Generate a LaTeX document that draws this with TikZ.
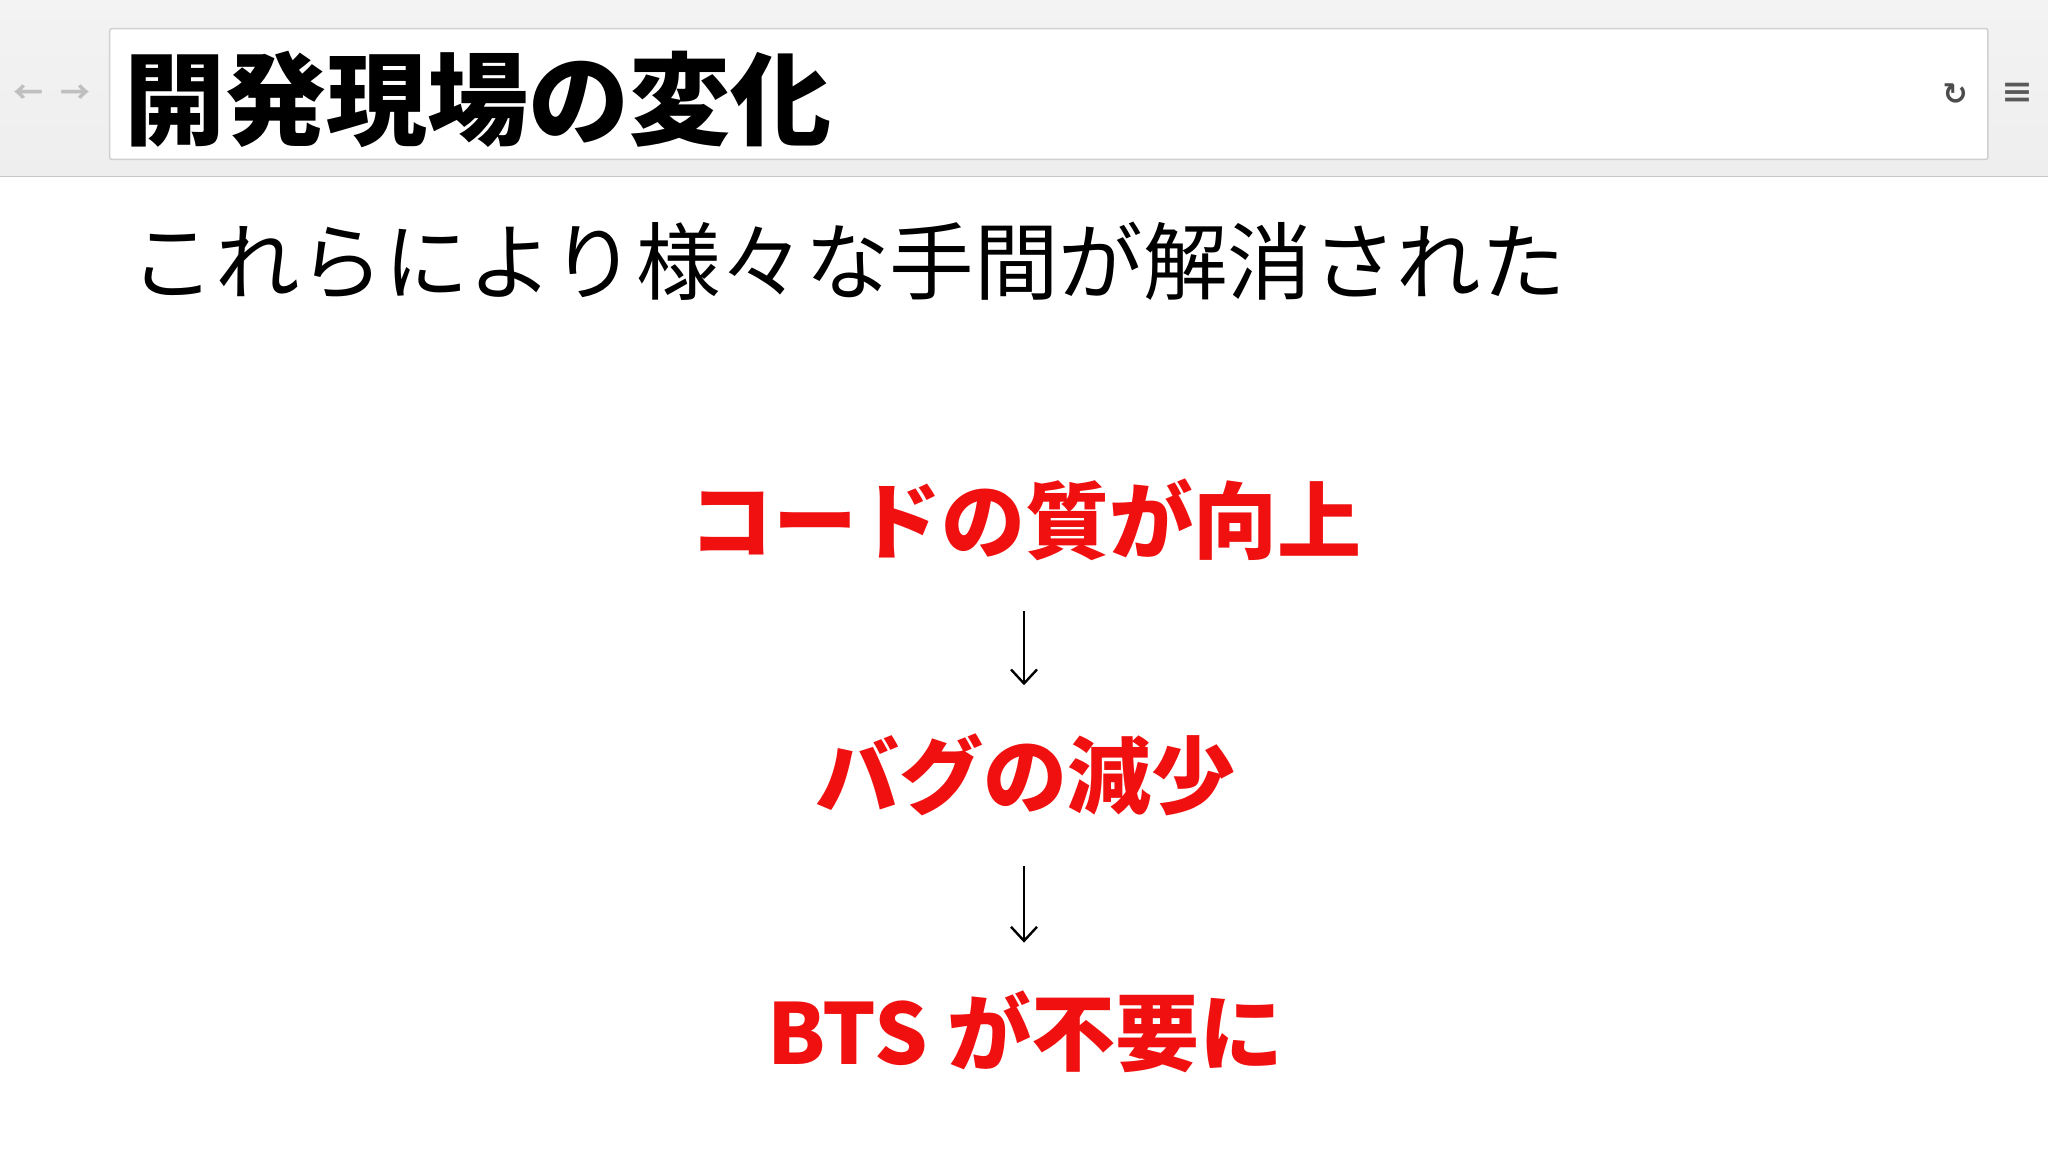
\documentclass[tikz,border=0pt]{standalone}
\usepackage{fontspec}
\setmainfont{Noto Sans CJK JP}
\newfontfamily\jp{Noto Sans CJK JP}
\newfontfamily\dejavu{DejaVu Sans}
\usetikzlibrary{arrows.meta}
\definecolor{barbg}{HTML}{EEEEEE}
\definecolor{redtxt}{HTML}{F01010}
\begin{document}
\begin{tikzpicture}[x=1.306pt,y=-1.306pt,
  redline/.style={text=redtxt,font=\jp\fontsize{84}{84}\selectfont\bfseries,inner sep=0pt},
  flow/.style={draw=black,line width=2.4pt,-{Straight Barb[length=14pt,width=26pt,line width=2.4pt]}},
  icon/.style={text=black!25,font=\jp\fontsize{30}{30}\selectfont\bfseries,inner sep=0pt}]
\useasboundingbox (0,0) rectangle (1568,882);
\fill[white] (0,0) rectangle (1568,882);
\shade[top color=barbg!70!white,bottom color=barbg] (0,0) rectangle (1568,135);
\draw[black!22,line width=1.5pt] (0,135) -- (1568,135);
\draw[black!18,fill=white,line width=1.5pt,rounded corners=2pt] (84,22) rectangle (1522,122);
\node[icon,anchor=center] (back) at (22,72) {←};
\node[icon,anchor=center] (fwd) at (58,72) {→};
\node[text=black!70,font=\dejavu\fontsize{30}{30}\selectfont\bfseries,inner sep=0pt] (reload) at (1497,72) {↻};
\node[text=black!65,font=\jp\fontsize{34}{34}\selectfont\bfseries,inner sep=0pt] (menu) at (1545,72) {≡};
\node[anchor=west,inner sep=0pt,font=\jp\fontsize{101}{101}\selectfont\bfseries] (title) at (95,76) {開発現場の変化};
\node[anchor=west,inner sep=0pt,font=\jp\fontsize{84.5}{84.5}\selectfont] (sub) at (100,200) {これらにより様々な手間が解消された};
\node[redline] (q) at (785,398) {コードの質が向上};
\node[redline] (b) at (785,593) {バグの減少};
\node[redline] (t) at (785,790) {BTS が不要に};
\draw[flow,shorten <=50pt,shorten >=48pt] (q.south -| 784,0) -- (b.north -| 784,0);
\draw[flow,shorten <=50pt,shorten >=48pt] (b.south -| 784,0) -- (t.north -| 784,0);
\end{tikzpicture}
\end{document}
